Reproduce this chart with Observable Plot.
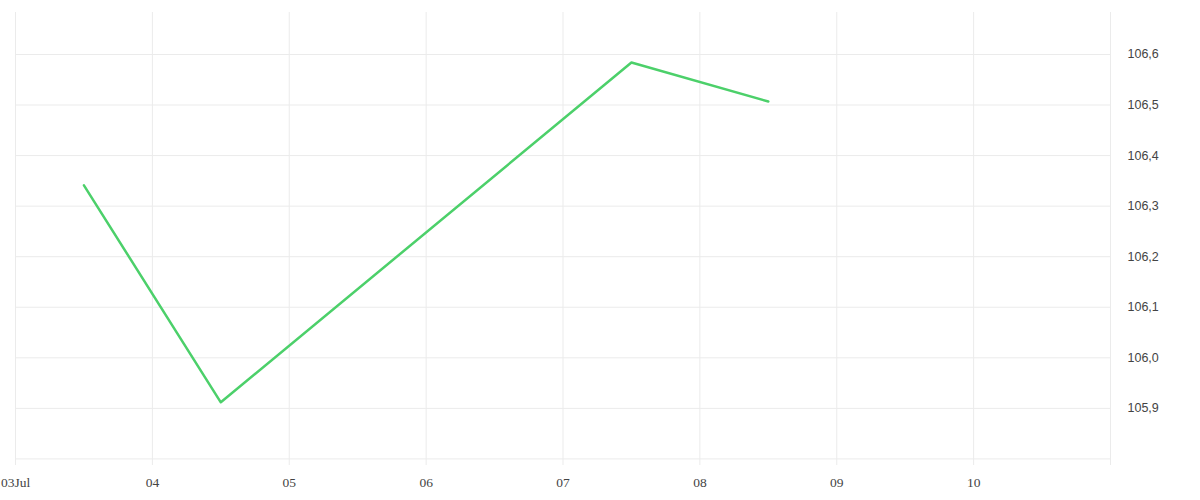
<!DOCTYPE html>
<html>
<head>
<meta charset="utf-8">
<script src="https://cdn.jsdelivr.net/npm/d3@7"></script>
<script src="https://cdn.jsdelivr.net/npm/@observablehq/plot@0.6"></script>
<style>
  html, body { margin: 0; padding: 0; background: #fff; }
</style>
</head>
<body>
<div id="chart"></div>
<script>
const dates = ["2024-07-03T12:00", "2024-07-04T12:00", "2024-07-07T12:00", "2024-07-08T12:00"];
const values = [106.341, 105.912, 106.584, 106.507];
const xTicks = ["2024-07-03", "2024-07-04", "2024-07-05", "2024-07-06", "2024-07-07", "2024-07-08", "2024-07-09", "2024-07-10", "2024-07-11"];
const xTickLabels = ["03Jul", "04", "05", "06", "07", "08", "09", "10", ""];
const yTicks = [105.9, 106.0, 106.1, 106.2, 106.3, 106.4, 106.5, 106.6];
const yGrid = [105.8, 105.9, 106.0, 106.1, 106.2, 106.3, 106.4, 106.5, 106.6];

const data = dates.map((d, i) => ({date: new Date(d + "Z"), value: values[i]}));
const xTickDates = xTicks.map(d => new Date(d + "T00:00Z"));

const chart = Plot.plot({
  width: 1200,
  height: 500,
  marginLeft: 15,
  marginRight: 90,
  marginTop: 12,
  marginBottom: 35,
  style: {background: "#fff"},
  x: {type: "utc", domain: [xTickDates[0], xTickDates[xTickDates.length - 1]]},
  y: {domain: [105.787, 106.683]},
  marks: [
    Plot.ruleY(yGrid, {stroke: "#ebebeb", strokeWidth: 1}),
    Plot.ruleX(xTickDates, {stroke: "#ebebeb", strokeWidth: 1}),
    Plot.axisX({
      ticks: xTickDates,
      tickFormat: (d, i) => xTickLabels[i],
      tickSize: 0,
      tickPadding: 12,
      label: null,
      fontSize: 13.5,
      fontFamily: "Liberation Serif, serif",
      fill: "#444"
    }),
    Plot.axisY({
      anchor: "right",
      ticks: yTicks,
      tickFormat: d => d.toFixed(1).replace(".", ","),
      tickSize: 0,
      tickPadding: 17,
      label: null,
      fontSize: 12.5,
      fontFamily: "Liberation Sans, sans-serif",
      fill: "#444"
    }),
    Plot.line(data, {x: "date", y: "value", stroke: "#4cd06a", strokeWidth: 2.5})
  ]
});
document.getElementById("chart").appendChild(chart);
</script>
</body>
</html>
